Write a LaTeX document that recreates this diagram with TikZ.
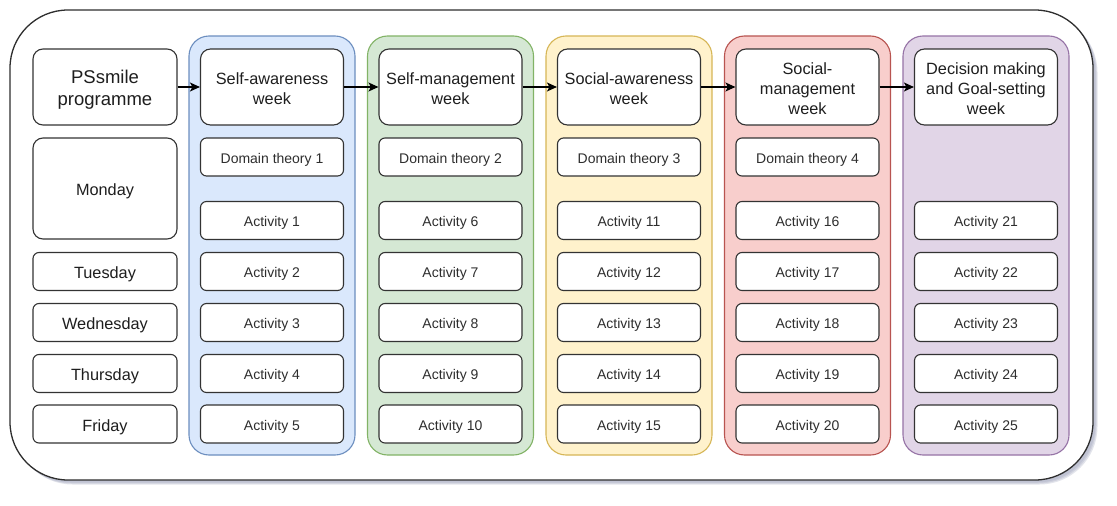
\documentclass[tikz,border=0pt]{standalone}
\usepackage{fontspec}
\setmainfont{Liberation Sans}
\usetikzlibrary{arrows.meta}
\definecolor{boxline}{HTML}{333333}
\definecolor{txtc}{HTML}{1E1E1E}
\definecolor{acttxt}{HTML}{2E2E2E}
\definecolor{shadowc}{HTML}{9A9FB8}
\definecolor{fillA}{HTML}{DAE8FC}\definecolor{lineA}{HTML}{6C8EBF}
\definecolor{fillB}{HTML}{D5E8D4}\definecolor{lineB}{HTML}{82B366}
\definecolor{fillC}{HTML}{FFF2CC}\definecolor{lineC}{HTML}{D6B656}
\definecolor{fillD}{HTML}{F8CECC}\definecolor{lineD}{HTML}{B85450}
\definecolor{fillE}{HTML}{E1D5E7}\definecolor{lineE}{HTML}{9673A6}
\newcommand{\celltxt}[1]{\raisebox{-3pt}[\height][\depth]{\begin{tabular}{@{}c@{}}#1\end{tabular}}}
\begin{document}
\begin{tikzpicture}[x=1pt,y=-1pt,
  box/.style={draw=boxline, line width=1.1pt, fill=white, rounded corners=6pt,
    inner sep=0pt, text=txtc},
  daybox/.style={box, minimum width=144pt, minimum height=38pt,
    font=\fontsize{16.3}{20}\selectfont},
  weekbox/.style={box, rounded corners=10pt, minimum width=143pt, minimum height=76pt,
    font=\fontsize{16.3}{20}\selectfont},
  actbox/.style={box, minimum width=143pt, minimum height=38pt, text=acttxt,
    font=\fontsize{14}{17}\selectfont},
  colbox/.style={line width=1.1pt, rounded corners=20pt, inner sep=0pt,
    minimum width=166pt, minimum height=419pt},
  arr/.style={draw=black, line width=1.1pt, -{Stealth[length=10pt,width=9pt,inset=2.5pt]}}
]
\useasboundingbox (0,0) rectangle (1117,506);
% shadow of the outer frame
\foreach \o in {4.5,3.5,2.5}
  \fill[shadowc, opacity=0.28, rounded corners=58pt] (10+\o,10+\o) rectangle (1093+\o,480+\o);
\node[draw=boxline!90!black, line width=1.3pt, fill=white, rounded corners=58pt,
  minimum width=1083pt, minimum height=470pt, inner sep=0pt] (outer) at (551.5,245) {};
% columns
\foreach \i/\c in {1/A,2/B,3/C,4/D,5/E}{
  \pgfmathsetmacro{\cx}{189+178.5*(\i-1)+83}
  \node[colbox, fill=fill\c, draw=line\c] (col\i) at (\cx,245.5) {};
}
% left column
\node[daybox, rounded corners=10pt, minimum height=76pt,
  font=\fontsize{18.5}{22.5}\selectfont] (ps) at (105,87) {\celltxt{PSsmile\\programme}};
\node[daybox, rounded corners=10pt, minimum height=101pt] (mon) at (105,188.5) {\celltxt{Monday}};
\node[daybox] (tue) at (105,271.5) {\celltxt{Tuesday}};
\node[daybox] (wed) at (105,322.5) {\celltxt{Wednesday}};
\node[daybox] (thu) at (105,373.5) {\celltxt{Thursday}};
\node[daybox] (fri) at (105,424) {\celltxt{Friday}};
% week boxes
\node[weekbox] (wk1) at (272,87) {\celltxt{Self-awareness\\week}};
\node[weekbox] (wk2) at (450.5,87) {\celltxt{Self-management\\week}};
\node[weekbox] (wk3) at (629,87) {\celltxt{Social-awareness\\week}};
\node[weekbox] (wk4) at (807.5,87) {\celltxt{Social-\\management\\week}};
\node[weekbox] (wk5) at (986,87) {\celltxt{Decision making\\and Goal-setting\\week}};
% domain theory boxes
\foreach \i in {1,...,4}{
  \pgfmathsetmacro{\cx}{189+178.5*(\i-1)+83}
  \node[actbox] (dt\i) at (\cx,157) {\celltxt{Domain theory \i}};
}
% activities
\foreach \i in {1,...,5}{
  \pgfmathsetmacro{\cx}{189+178.5*(\i-1)+83}
  \foreach \r/\ry in {1/220.5,2/271.5,3/322.5,4/373.5,5/424}{
    \pgfmathtruncatemacro{\n}{5*(\i-1)+\r}
    \node[actbox] (a\n) at (\cx,\ry) {\celltxt{Activity \n}};
  }
}
% arrows
\draw[arr] (ps) -- (wk1);
\draw[arr] (wk1) -- (wk2);
\draw[arr] (wk2) -- (wk3);
\draw[arr] (wk3) -- (wk4);
\draw[arr] (wk4) -- (wk5);
\end{tikzpicture}
\end{document}
